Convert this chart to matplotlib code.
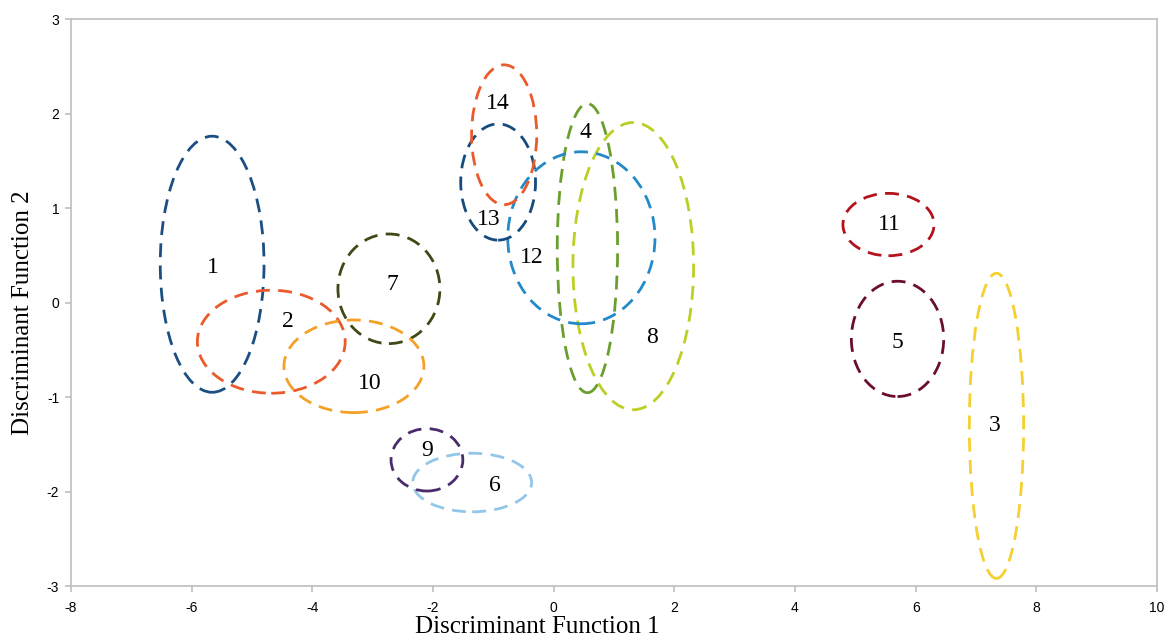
import matplotlib
matplotlib.use("Agg")
import matplotlib.pyplot as plt
from matplotlib.patches import Ellipse

groups = ["1", "2", "3", "4", "5", "6", "7", "8", "9", "10", "11", "12", "13", "14"]
center_x = [-5.66, -4.68, 7.34, 0.56, 5.70, -1.35, -2.73, 1.32, -2.10, -3.31, 5.55, 0.46, -0.92, -0.82]
center_y = [0.41, -0.41, -1.30, 0.58, -0.38, -1.90, 0.15, 0.39, -1.66, -0.67, 0.83, 0.69, 1.28, 1.78]
widths = [1.72, 2.45, 0.90, 1.00, 1.53, 1.97, 1.69, 2.00, 1.19, 2.32, 1.51, 2.44, 1.24, 1.08]
heights = [2.71, 1.09, 3.23, 3.06, 1.22, 0.62, 1.16, 3.04, 0.66, 0.98, 0.66, 1.82, 1.23, 1.48]
label_x = [-5.65, -4.40, 7.31, 0.52, 5.70, -0.97, -2.68, 1.63, -2.10, -3.04, 5.57, -0.36, -1.08, -0.92]
label_y = [0.38, -0.20, -1.30, 1.80, -0.42, -1.93, 0.20, -0.37, -1.56, -0.85, 0.83, 0.48, 0.88, 2.11]
colors = ["#1b4f82", "#ea5a2a", "#f5d030", "#6a9f2e", "#6b0d2e", "#92c7ea", "#3d4a16",
          "#bdcf25", "#4a2b6c", "#f4a127", "#b3121c", "#2389c8", "#174b7d", "#ea5a2a"]

x_ticks = [-8, -6, -4, -2, 0, 2, 4, 6, 8, 10]
y_ticks = [-3, -2, -1, 0, 1, 2, 3]

fig = plt.figure(figsize=(11.69, 6.39), dpi=100)
ax = fig.add_axes([0.0607, 0.0822, 0.9290, 0.8873])
ax.set_xlim(-8, 10)
ax.set_ylim(-3, 3)

for i in range(len(groups)):
    e = Ellipse((center_x[i], center_y[i]), widths[i], heights[i], fill=False,
                edgecolor=colors[i], linewidth=2.0, linestyle=(0, (5, 3)))
    ax.add_patch(e)
    ax.text(label_x[i], label_y[i], groups[i], ha="center", va="center",
            fontsize=17, family="Liberation Serif", color="black")

ax.set_xticks(x_ticks)
ax.set_yticks(y_ticks)
ax.set_xticklabels([str(t) for t in x_ticks], family="Liberation Sans", fontsize=10)
ax.set_yticklabels([str(t) for t in y_ticks], family="Liberation Sans", fontsize=10)
for s in ax.spines.values():
    s.set_color("#bfbfbf")
    s.set_linewidth(1.2)
ax.tick_params(axis="x", direction="out", length=4.5, width=1.2, color="#bfbfbf", pad=6)
ax.tick_params(axis="y", direction="out", length=4.5, width=1.2, color="#bfbfbf", pad=4)

fig.text(537.5 / 1169, 1 - 633 / 639, "Discriminant Function 1", ha="center", va="baseline",
         family="Liberation Serif", fontsize=18)
fig.text(23 / 1169, 1 - 313 / 639, "Discriminant Function 2", ha="center", va="center",
         rotation=90, family="Liberation Serif", fontsize=18)

fig.savefig("out.png", dpi=100)
